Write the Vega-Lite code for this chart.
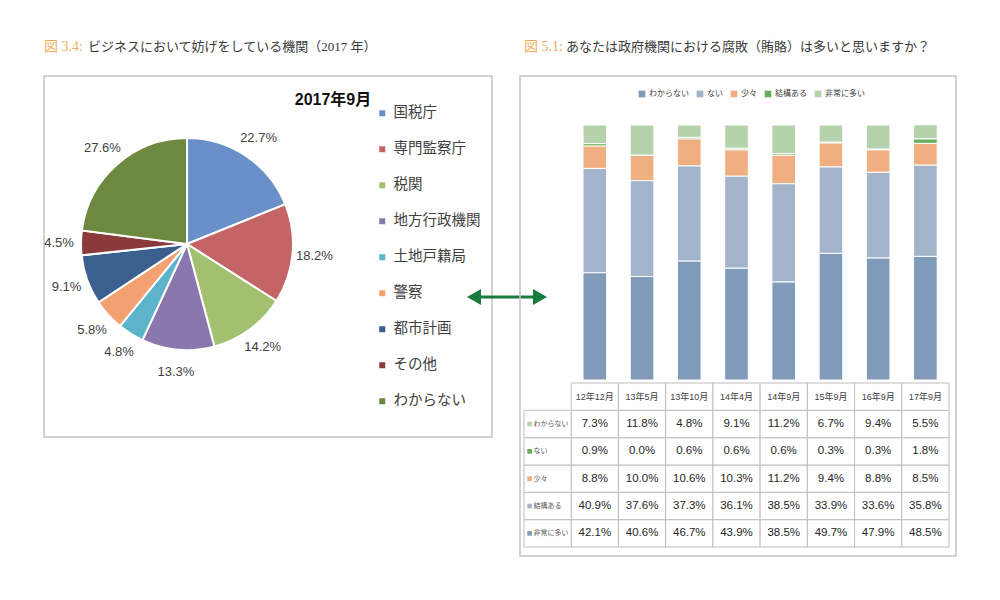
{
  "$schema": "https://vega.github.io/schema/vega-lite/v6.json",
  "background": "white",
  "padding": {"left": 43, "top": 39, "right": 0, "bottom": 0},
  "bounds": "flush",
  "spacing": 28,
  "resolve": {"scale": {"color": "independent"}, "legend": {"color": "independent"}},
  "config": {
    "view": {"stroke": "#c4c4c4", "strokeWidth": 1.5},
    "font": "Noto Sans CJK JP"
  },
  "hconcat": [
    {
      "width": 448,
      "height": 361,
      "data": {
        "values": [
          {"agency": "国税庁", "share": 0.227},
          {"agency": "専門監察庁", "share": 0.182},
          {"agency": "税関", "share": 0.142},
          {"agency": "地方行政機関", "share": 0.133},
          {"agency": "土地戸籍局", "share": 0.048},
          {"agency": "警察", "share": 0.058},
          {"agency": "都市計画", "share": 0.091},
          {"agency": "その他", "share": 0.045},
          {"agency": "わからない", "share": 0.276}
        ]
      },
      "transform": [{"window": [{"op": "row_number", "as": "k"}]}],
      "layer": [
        {
          "mark": {"type": "arc", "outerRadius": 106, "stroke": "white", "strokeWidth": 2},
          "encoding": {
            "x": {"value": 143},
            "y": {"value": 168},
            "theta": {"field": "share", "type": "quantitative", "stack": true},
            "order": {"field": "k", "type": "quantitative"},
            "color": {
              "field": "agency",
              "type": "nominal",
              "sort": null,
              "scale": {
                "domain": ["国税庁", "専門監察庁", "税関", "地方行政機関", "土地戸籍局", "警察", "都市計画", "その他", "わからない"],
                "range": ["#6990c8", "#c46466", "#a2c070", "#8a77ae", "#5cb4cb", "#f4a172", "#3b5f8e", "#8a3a3b", "#6d893f"]
              },
              "legend": {
                "orient": "none",
                "direction": "vertical",
                "legendX": 331,
                "legendY": 30,
                "title": null,
                "symbolType": "square",
                "symbolSize": 36,
                "symbolStrokeWidth": 0,
                "labelFontSize": 14.5,
                "labelColor": "#404040",
                "labelOffset": 4,
                "rowPadding": 21
              }
            }
          }
        },
        {
          "mark": {"type": "text", "radius": 128, "fontSize": 13, "font": "Liberation Sans", "color": "#404040"},
          "encoding": {
            "x": {"value": 143},
            "y": {"value": 168},
            "theta": {"field": "share", "type": "quantitative", "stack": true},
            "order": {"field": "k", "type": "quantitative"},
            "text": {"field": "share", "type": "quantitative", "format": ".1%"}
          }
        },
        {
          "data": {"values": [{}]},
          "mark": {"type": "text", "text": "2017年9月", "align": "center", "baseline": "middle", "fontSize": 16, "fontWeight": "bold", "color": "#111111", "font": "Liberation Sans, Noto Sans CJK JP"},
          "encoding": {"x": {"value": 289}, "y": {"value": 24}}
        },
        {
          "data": {"values": [{}]},
          "mark": {"type": "text", "text": "図 3.4:", "align": "left", "baseline": "middle", "fontSize": 14, "color": "#f5ad55", "font": "Liberation Serif, Noto Sans CJK JP"},
          "encoding": {"x": {"value": 0}, "y": {"value": -29}}
        },
        {
          "data": {"values": [{}]},
          "mark": {"type": "text", "text": "ビジネスにおいて妨げをしている機関（2017 年）", "align": "left", "baseline": "middle", "fontSize": 13, "color": "#3a3a3a", "font": "Liberation Serif, Noto Sans CJK JP"},
          "encoding": {"x": {"value": 44}, "y": {"value": -29}}
        },
        {
          "data": {"values": [{}]},
          "mark": {"type": "rule", "color": "#1b7a3d", "strokeWidth": 3},
          "encoding": {"x": {"value": 432}, "x2": {"value": 494}, "y": {"value": 221}}
        },
        {
          "data": {"values": [{}]},
          "mark": {"type": "point", "shape": "triangle-left", "filled": true, "size": 260, "color": "#1b7a3d", "opacity": 1},
          "encoding": {"x": {"value": 430}, "y": {"value": 221}}
        },
        {
          "data": {"values": [{}]},
          "mark": {"type": "point", "shape": "triangle-right", "filled": true, "size": 260, "color": "#1b7a3d", "opacity": 1},
          "encoding": {"x": {"value": 496}, "y": {"value": 221}}
        }
      ]
    },
    {
      "width": 436,
      "height": 480,
      "data": {
        "values": [
          {"date": "12年12月", "cat": "非常に多い", "value": 0.421},
          {"date": "12年12月", "cat": "結構ある", "value": 0.409},
          {"date": "12年12月", "cat": "少々", "value": 0.088},
          {"date": "12年12月", "cat": "ない", "value": 0.009},
          {"date": "12年12月", "cat": "わからない", "value": 0.073},
          {"date": "13年5月", "cat": "非常に多い", "value": 0.406},
          {"date": "13年5月", "cat": "結構ある", "value": 0.376},
          {"date": "13年5月", "cat": "少々", "value": 0.100},
          {"date": "13年5月", "cat": "ない", "value": 0.000},
          {"date": "13年5月", "cat": "わからない", "value": 0.118},
          {"date": "13年10月", "cat": "非常に多い", "value": 0.467},
          {"date": "13年10月", "cat": "結構ある", "value": 0.373},
          {"date": "13年10月", "cat": "少々", "value": 0.106},
          {"date": "13年10月", "cat": "ない", "value": 0.006},
          {"date": "13年10月", "cat": "わからない", "value": 0.048},
          {"date": "14年4月", "cat": "非常に多い", "value": 0.439},
          {"date": "14年4月", "cat": "結構ある", "value": 0.361},
          {"date": "14年4月", "cat": "少々", "value": 0.103},
          {"date": "14年4月", "cat": "ない", "value": 0.006},
          {"date": "14年4月", "cat": "わからない", "value": 0.091},
          {"date": "14年9月", "cat": "非常に多い", "value": 0.385},
          {"date": "14年9月", "cat": "結構ある", "value": 0.385},
          {"date": "14年9月", "cat": "少々", "value": 0.112},
          {"date": "14年9月", "cat": "ない", "value": 0.006},
          {"date": "14年9月", "cat": "わからない", "value": 0.112},
          {"date": "15年9月", "cat": "非常に多い", "value": 0.497},
          {"date": "15年9月", "cat": "結構ある", "value": 0.339},
          {"date": "15年9月", "cat": "少々", "value": 0.094},
          {"date": "15年9月", "cat": "ない", "value": 0.003},
          {"date": "15年9月", "cat": "わからない", "value": 0.067},
          {"date": "16年9月", "cat": "非常に多い", "value": 0.479},
          {"date": "16年9月", "cat": "結構ある", "value": 0.336},
          {"date": "16年9月", "cat": "少々", "value": 0.088},
          {"date": "16年9月", "cat": "ない", "value": 0.003},
          {"date": "16年9月", "cat": "わからない", "value": 0.094},
          {"date": "17年9月", "cat": "非常に多い", "value": 0.485},
          {"date": "17年9月", "cat": "結構ある", "value": 0.358},
          {"date": "17年9月", "cat": "少々", "value": 0.085},
          {"date": "17年9月", "cat": "ない", "value": 0.018},
          {"date": "17年9月", "cat": "わからない", "value": 0.055}
        ]
      },
      "transform": [{"window": [{"op": "row_number", "as": "k"}], "groupby": ["date"]}],
      "resolve": {"scale": {"y": "independent"}},
      "layer": [
        {
          "mark": {"type": "bar", "width": {"band": 0.5}, "stroke": "white", "strokeWidth": 1},
          "encoding": {
            "x": {
              "field": "date",
              "type": "nominal",
              "sort": null,
              "scale": {
                "domain": ["label", "12年12月", "13年5月", "13年10月", "14年4月", "14年9月", "15年9月", "16年9月", "17年9月"],
                "range": [4, 429],
                "paddingInner": 0,
                "paddingOuter": 0
              },
              "axis": null
            },
            "y": {
              "field": "value",
              "type": "quantitative",
              "stack": "zero",
              "scale": {"domain": [0, 1], "range": [304, 49], "nice": false},
              "axis": null
            },
            "order": {"field": "k", "type": "quantitative"},
            "color": {
              "field": "cat",
              "type": "nominal",
              "sort": null,
              "scale": {
                "domain": ["非常に多い", "結構ある", "少々", "ない", "わからない"],
                "range": ["#7f9bb9", "#a3b4ca", "#f0af80", "#69ae5b", "#b5d2ac"]
              },
              "legend": {
                "orient": "none",
                "direction": "horizontal",
                "columns": 5,
                "legendX": 118,
                "legendY": 14,
                "title": null,
                "symbolType": "square",
                "symbolSize": 45,
                "symbolStrokeWidth": 0,
                "labelFontSize": 8,
                "labelColor": "#404040",
                "labelOffset": 3,
                "columnPadding": 7,
                "labelExpr": "{'非常に多い': 'わからない', '結構ある': 'ない', '少々': '少々', 'ない': '結構ある', 'わからない': '非常に多い'}[datum.label]"
              }
            }
          }
        },
        {
          "layer": [
            {
              "mark": {"type": "rect", "fill": "white", "stroke": "#bdbdbd", "strokeWidth": 1},
              "encoding": {
                "x": {"field": "date", "type": "nominal", "axis": null},
                "y": {
                  "field": "cat",
                  "type": "nominal",
                  "scale": {
                    "domain": ["header", "わからない", "ない", "少々", "結構ある", "非常に多い"],
                    "range": [307, 471],
                    "paddingInner": 0,
                    "paddingOuter": 0
                  },
                  "axis": null
                }
              }
            },
            {
              "transform": [{"aggregate": [{"op": "count", "as": "n"}], "groupby": ["date"]}],
              "mark": {"type": "rect", "fill": "white", "stroke": "#bdbdbd", "strokeWidth": 1},
              "encoding": {
                "x": {"field": "date", "type": "nominal", "axis": null},
                "y": {"datum": "header", "type": "nominal", "axis": null}
              }
            },
            {
              "transform": [{"aggregate": [{"op": "count", "as": "n"}], "groupby": ["cat"]}],
              "mark": {"type": "rect", "fill": "white", "stroke": "#bdbdbd", "strokeWidth": 1},
              "encoding": {
                "x": {"datum": "label", "type": "nominal", "axis": null},
                "y": {"field": "cat", "type": "nominal", "axis": null}
              }
            },
            {
              "mark": {"type": "text", "fontSize": 11.5, "font": "Liberation Sans", "color": "#262626"},
              "encoding": {
                "x": {"field": "date", "type": "nominal", "axis": null},
                "y": {"field": "cat", "type": "nominal", "axis": null},
                "text": {"field": "value", "type": "quantitative", "format": ".1%"}
              }
            },
            {
              "transform": [{"aggregate": [{"op": "count", "as": "n"}], "groupby": ["date"]}],
              "mark": {"type": "text", "fontSize": 9, "font": "Liberation Sans, Noto Sans CJK JP", "color": "#404040"},
              "encoding": {
                "x": {"field": "date", "type": "nominal", "axis": null},
                "y": {"datum": "header", "type": "nominal", "axis": null},
                "text": {"field": "date", "type": "nominal"}
              }
            },
            {
              "transform": [{"aggregate": [{"op": "count", "as": "n"}], "groupby": ["cat"]}],
              "mark": {"type": "point", "shape": "square", "filled": true, "size": 22, "opacity": 1, "xOffset": -18},
              "encoding": {
                "x": {"datum": "label", "type": "nominal", "axis": null},
                "y": {"field": "cat", "type": "nominal", "axis": null},
                "color": {"field": "cat", "type": "nominal"}
              }
            },
            {
              "transform": [{"aggregate": [{"op": "count", "as": "n"}], "groupby": ["cat"]}],
              "mark": {"type": "text", "fontSize": 7, "align": "left", "dx": -14, "color": "#595959"},
              "encoding": {
                "x": {"datum": "label", "type": "nominal", "axis": null},
                "y": {"field": "cat", "type": "nominal", "axis": null},
                "text": {"field": "cat", "type": "nominal"}
              }
            }
          ]
        },
        {
          "data": {"values": [{}]},
          "mark": {"type": "text", "text": "図 5.1:", "align": "left", "baseline": "middle", "fontSize": 14, "color": "#f5ad55", "font": "Liberation Serif, Noto Sans CJK JP"},
          "encoding": {"x": {"value": 4}, "y": {"value": -29}}
        },
        {
          "data": {"values": [{}]},
          "mark": {"type": "text", "text": "あなたは政府機関における腐敗（賄賂）は多いと思いますか？", "align": "left", "baseline": "middle", "fontSize": 13, "color": "#3a3a3a", "font": "Liberation Serif, Noto Sans CJK JP"},
          "encoding": {"x": {"value": 46}, "y": {"value": -29}}
        }
      ]
    }
  ]
}
